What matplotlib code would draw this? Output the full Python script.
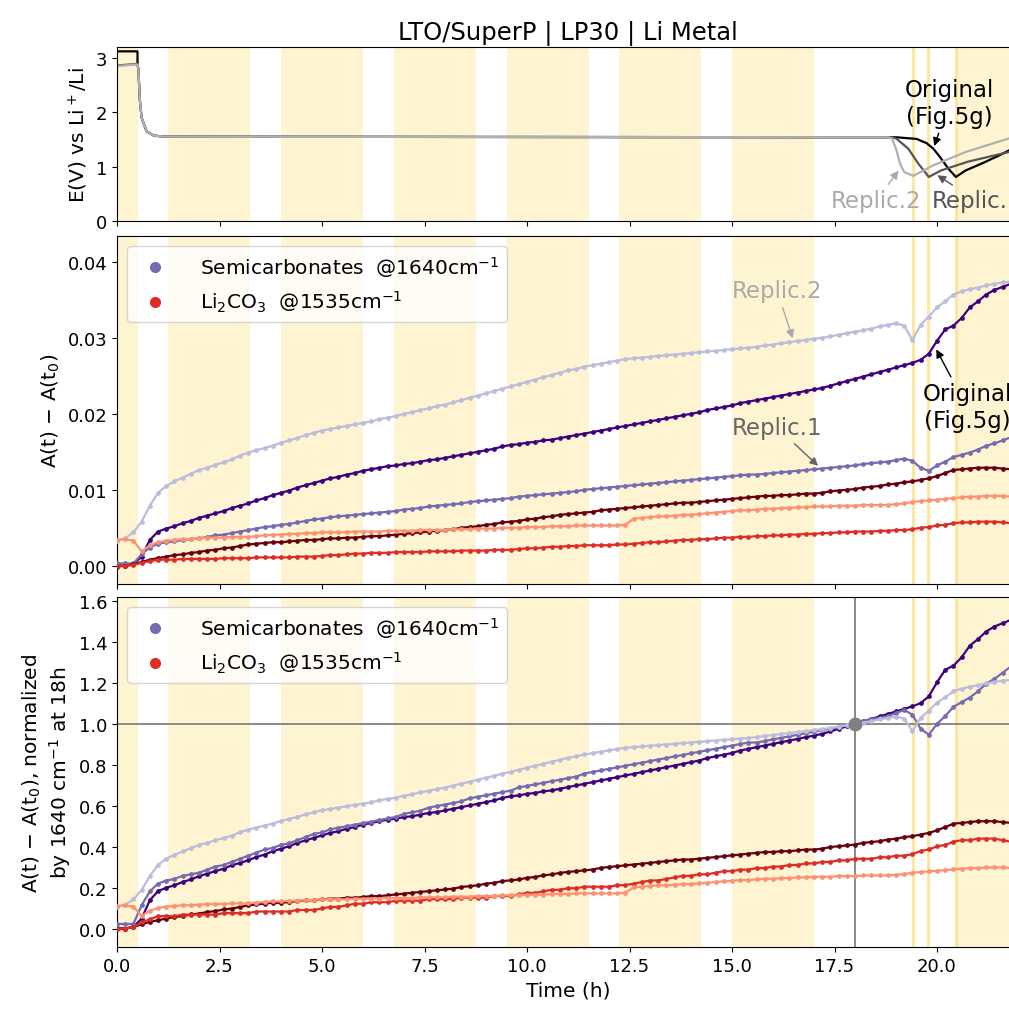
import matplotlib
matplotlib.use("Agg")
import matplotlib.pyplot as plt
import numpy as np
from matplotlib.lines import Line2D

# ---- electrochemistry (top panel) ----
orig_vt = [0, 0.5, 0.5, 0.52, 0.56, 0.6, 0.72, 0.9, 1.2, 19.0, 19.5, 19.75,
           19.91, 20.07, 20.28, 20.46, 20.7, 21.1, 21.5, 21.76, 22.0]
orig_v = [3.12, 3.12, 2.88, 2.8, 2.2, 1.9, 1.65, 1.57, 1.55, 1.54, 1.51, 1.43,
          1.33, 1.18, 0.96, 0.81, 0.93, 1.06, 1.2, 1.3, 1.36]
rep1_vt = [0, 0.5, 0.52, 0.56, 0.6, 0.72, 0.9, 1.2, 18.9, 19.0, 19.3, 19.54,
           19.8, 20.1, 20.75, 21.76, 22.0]
rep1_v = [2.86, 2.89, 2.8, 2.2, 1.9, 1.65, 1.57, 1.55, 1.54, 1.52, 1.33, 1.06,
          0.81, 0.93, 1.09, 1.27, 1.31]
rep2_vt = [0, 0.5, 0.52, 0.56, 0.6, 0.72, 0.9, 1.2, 18.8, 18.9, 19.0, 19.1,
           19.2, 19.42, 19.9, 20.7, 21.76, 22.0]
rep2_v = [2.85, 2.88, 2.8, 2.2, 1.9, 1.65, 1.57, 1.55, 1.54, 1.52, 1.33, 1.05,
          0.9, 0.83, 1.02, 1.27, 1.52, 1.57]

# ---- IR band areas, A(t)-A(t0) in 1e-3 units, every 0.2 h ----
time = np.linspace(0, 21.8, 110)

semi_orig = [0.1, 0.0, 0.2, 1.2, 3.4, 4.5, 4.9, 5.2, 5.6, 5.9,
             6.3, 6.6, 6.9, 7.2, 7.6, 7.9, 8.2, 8.6, 8.9, 9.3,
             9.6, 9.9, 10.3, 10.6, 10.9, 11.2, 11.5, 11.7, 12.0, 12.2,
             12.5, 12.7, 12.9, 13.1, 13.2, 13.4, 13.5, 13.7, 13.9, 14.0,
             14.2, 14.4, 14.6, 14.8, 15.0, 15.2, 15.4, 15.7, 15.9, 16.0,
             16.2, 16.3, 16.5, 16.6, 16.8, 17.0, 17.2, 17.4, 17.6, 17.8,
             18.0, 18.2, 18.4, 18.6, 18.8, 19.0, 19.2, 19.4, 19.6, 19.8,
             20.0, 20.2, 20.5, 20.7, 20.9, 21.1, 21.4, 21.6, 21.8, 22.0,
             22.2, 22.4, 22.6, 22.8, 23.0, 23.2, 23.4, 23.7, 24.0, 24.3,
             24.6, 24.9, 25.2, 25.5, 25.8, 26.1, 26.4, 26.7, 27.1, 27.9,
             29.6, 31.1, 31.6, 32.6, 34.0, 34.8, 35.7, 36.3, 36.7, 37.1]
semi_rep1 = [0.3, 0.3, 0.3, 1.5, 2.4, 2.9, 3.1, 3.2, 3.4, 3.5,
             3.6, 3.8, 4.0, 4.1, 4.3, 4.5, 4.7, 4.9, 5.1, 5.2,
             5.4, 5.5, 5.7, 5.9, 6.1, 6.2, 6.4, 6.5, 6.6, 6.7,
             6.8, 6.9, 7.0, 7.1, 7.2, 7.4, 7.5, 7.6, 7.8, 7.9,
             8.0, 8.1, 8.2, 8.4, 8.5, 8.6, 8.7, 8.8, 8.9, 9.1,
             9.2, 9.3, 9.4, 9.5, 9.6, 9.7, 9.8, 10.0, 10.1, 10.2,
             10.3, 10.4, 10.5, 10.6, 10.7, 10.8, 10.9, 11.0, 11.1, 11.2,
             11.3, 11.4, 11.5, 11.6, 11.7, 11.8, 11.9, 12.0, 12.0, 12.1,
             12.2, 12.3, 12.4, 12.5, 12.6, 12.7, 12.8, 12.9, 13.0, 13.1,
             13.2, 13.4, 13.5, 13.6, 13.7, 13.9, 14.1, 13.8, 12.9, 12.5,
             13.2, 13.7, 14.3, 14.6, 14.9, 15.3, 15.8, 16.1, 16.5, 16.9]
semi_rep2 = [3.3, 3.6, 4.4, 5.8, 7.9, 9.6, 10.5, 11.1, 11.6, 12.1,
             12.6, 12.9, 13.3, 13.6, 14.0, 14.5, 14.9, 15.2, 15.5, 15.8,
             16.2, 16.5, 16.8, 17.2, 17.5, 17.8, 18.0, 18.2, 18.4, 18.6,
             18.8, 19.0, 19.3, 19.5, 19.7, 20.0, 20.2, 20.5, 20.7, 21.0,
             21.2, 21.5, 21.8, 22.1, 22.4, 22.7, 23.0, 23.3, 23.6, 23.9,
             24.2, 24.5, 24.8, 25.1, 25.4, 25.7, 25.9, 26.2, 26.4, 26.6,
             26.8, 27.0, 27.2, 27.3, 27.4, 27.5, 27.6, 27.7, 27.8, 27.9,
             28.0, 28.1, 28.2, 28.3, 28.4, 28.5, 28.6, 28.7, 28.8, 29.0,
             29.1, 29.3, 29.4, 29.6, 29.7, 29.9, 30.0, 30.2, 30.4, 30.6,
             30.8, 31.0, 31.2, 31.5, 31.7, 31.9, 31.6, 29.7, 31.7, 32.8,
             34.0, 34.8, 35.7, 36.1, 36.4, 36.6, 36.9, 37.1, 37.3, 37.4]
carb_orig = [-0.1, 0.0, 0.2, 0.5, 0.8, 1.0, 1.2, 1.4, 1.5, 1.7,
             1.8, 2.0, 2.1, 2.3, 2.4, 2.6, 2.8, 2.9, 3.0, 3.1,
             3.1, 3.2, 3.3, 3.4, 3.4, 3.5, 3.6, 3.6, 3.7, 3.7,
             3.8, 3.9, 3.9, 4.0, 4.1, 4.2, 4.3, 4.4, 4.5, 4.6,
             4.7, 4.8, 5.0, 5.1, 5.2, 5.4, 5.5, 5.7, 5.8, 5.9,
             6.1, 6.2, 6.4, 6.5, 6.7, 6.8, 6.9, 7.0, 7.1, 7.3,
             7.4, 7.5, 7.6, 7.7, 7.8, 7.9, 8.0, 8.1, 8.2, 8.3,
             8.3, 8.4, 8.5, 8.6, 8.7, 8.8, 8.9, 9.0, 9.1, 9.2,
             9.2, 9.3, 9.3, 9.4, 9.5, 9.5, 9.6, 9.8, 9.9, 10.0,
             10.1, 10.3, 10.4, 10.5, 10.7, 10.8, 11.0, 11.1, 11.3, 11.5,
             11.8, 12.2, 12.6, 12.7, 12.8, 12.9, 12.9, 12.9, 12.8, 12.7]
carb_rep1 = [0.0, 0.0, 0.1, 0.4, 0.6, 0.8, 0.8, 0.8, 0.9, 0.9,
             0.9, 0.9, 0.9, 1.0, 1.0, 1.0, 1.0, 1.1, 1.1, 1.1,
             1.1, 1.1, 1.2, 1.2, 1.2, 1.3, 1.4, 1.4, 1.5, 1.6,
             1.6, 1.7, 1.7, 1.7, 1.8, 1.8, 1.8, 1.8, 1.9, 1.9,
             1.9, 1.9, 2.0, 2.0, 2.0, 2.0, 2.1, 2.1, 2.1, 2.2,
             2.3, 2.3, 2.4, 2.5, 2.5, 2.6, 2.6, 2.7, 2.7, 2.7,
             2.7, 2.8, 2.8, 2.9, 3.0, 3.1, 3.1, 3.2, 3.3, 3.4,
             3.4, 3.5, 3.5, 3.6, 3.7, 3.7, 3.8, 3.8, 3.9, 3.9,
             4.0, 4.0, 4.1, 4.1, 4.2, 4.2, 4.3, 4.3, 4.4, 4.4,
             4.5, 4.5, 4.5, 4.6, 4.6, 4.7, 4.7, 4.8, 5.0, 5.1,
             5.3, 5.4, 5.6, 5.7, 5.7, 5.8, 5.8, 5.8, 5.7, 5.6]
carb_rep2 = [3.4, 3.5, 3.3, 1.9, 2.7, 3.1, 3.3, 3.4, 3.5, 3.5,
             3.6, 3.7, 3.7, 3.7, 3.8, 3.8, 3.8, 3.9, 4.0, 4.1,
             4.1, 4.2, 4.2, 4.3, 4.3, 4.4, 4.4, 4.4, 4.4, 4.5,
             4.5, 4.5, 4.5, 4.6, 4.6, 4.6, 4.6, 4.7, 4.7, 4.7,
             4.7, 4.8, 4.8, 4.8, 4.9, 4.9, 4.9, 5.0, 5.0, 5.0,
             5.1, 5.1, 5.1, 5.2, 5.2, 5.2, 5.3, 5.3, 5.3, 5.3,
             5.3, 5.3, 5.4, 6.2, 6.3, 6.4, 6.5, 6.5, 6.6, 6.7,
             6.7, 6.8, 6.9, 7.0, 7.1, 7.2, 7.3, 7.3, 7.4, 7.5,
             7.5, 7.6, 7.6, 7.7, 7.7, 7.8, 7.8, 7.8, 7.9, 7.9,
             7.9, 8.0, 8.0, 8.0, 8.0, 8.1, 8.2, 8.4, 8.5, 8.6,
             8.7, 8.8, 8.9, 9.0, 9.1, 9.1, 9.2, 9.2, 9.2, 9.1]

# shaded periods (h)
shade_start = [0.0, 1.25, 4.0, 6.75, 9.5, 12.25, 15.0, 20.46]
shade_end = [0.5, 3.25, 6.0, 8.75, 11.5, 14.25, 17.0, 22.5]
marker_lines = [19.42, 19.78, 20.46]

c_semi = ['#3f007d', '#756bb1', '#bcbddc']
c_carb = ['#67000d', '#de2d26', '#fc9272']
shade_col = '#fff4d2'

semis = [np.array(s) * 1e-3 for s in (semi_orig, semi_rep1, semi_rep2)]
carbs = [np.array(c) * 1e-3 for c in (carb_orig, carb_rep1, carb_rep2)]
i18 = np.argmin(np.abs(time - 18.0))
norms = [s[i18] for s in semis]

W, H = 1009, 1012
fig = plt.figure(figsize=(W / 100, H / 100), dpi=100)
left, width = 117 / W, 902 / W
ax1 = fig.add_axes([left, 1 - 222 / H, width, 174 / H])
ax2 = fig.add_axes([left, 1 - 585 / H, width, 348 / H])
ax3 = fig.add_axes([left, 1 - 948 / H, width, 350 / H])


def shade(ax):
    for s, e in zip(shade_start, shade_end):
        ax.axvspan(s, e, color=shade_col, lw=0, zorder=0)
    for x in marker_lines:
        ax.axvline(x, color='#fde6a0', lw=2.2, zorder=0.5)


for ax in (ax1, ax2, ax3):
    shade(ax)
    ax.set_xlim(0, 22)
    ax.tick_params(labelsize=13)

# top panel (light grey drawn last, so it sits on top of the plateau)
ax1.plot(orig_vt, orig_v, color='black', lw=1.6)
ax1.plot(rep1_vt, rep1_v, color='#555555', lw=1.6)
ax1.plot(rep2_vt, rep2_v, color='#b0b0b0', lw=1.6)
ax1.set_ylim(0, 3.2)
ax1.set_yticks([0, 1, 2, 3])
ax1.tick_params(labelbottom=False)
ax1.set_ylabel('E(V) vs Li$^+$/Li', fontsize=14.5)
ax1.set_title('LTO/SuperP | LP30 | Li Metal', fontsize=17.5)

ann = dict(fontsize=16.5, ha='center', va='center', annotation_clip=False)
ax1.annotate('Original\n(Fig.5g)', xy=(19.91, 1.33), xytext=(20.3, 2.17),
             color='black', arrowprops=dict(arrowstyle='-|>', color='black', lw=1, mutation_scale=12), **ann)
ax1.annotate('Replic.2', xy=(19.1, 0.97), xytext=(18.52, 0.37),
             color='#aaaaaa', arrowprops=dict(arrowstyle='-|>', color='#aaaaaa', lw=1, mutation_scale=12), **ann)
ax1.annotate('Replic.1', xy=(19.95, 0.87), xytext=(20.97, 0.37),
             color='#555555', arrowprops=dict(arrowstyle='-|>', color='#555555', lw=1, mutation_scale=12), **ann)

# middle panel
for ys, c in zip(semis, c_semi):
    ax2.plot(time, ys, '-o', color=c, ms=2.4, lw=1.6, zorder=3)
for ys, c in zip(carbs, c_carb):
    ax2.plot(time, ys, '-o', color=c, ms=2.4, lw=1.6, zorder=3)
ax2.set_ylim(-0.0024, 0.0434)
ax2.set_yticks([0, 0.01, 0.02, 0.03, 0.04])
ax2.tick_params(labelbottom=False)
ax2.set_ylabel('A(t) $-$ A(t$_0$)', fontsize=14.5)
ax2.annotate('Replic.2', xy=(16.5, 0.0296), xytext=(16.1, 0.0362),
             color='#aaaaaa', arrowprops=dict(arrowstyle='-|>', color='#aaaaaa', lw=1, mutation_scale=12), **ann)
ax2.annotate('Replic.1', xy=(17.15, 0.0129), xytext=(16.1, 0.0182),
             color='#666666', arrowprops=dict(arrowstyle='-|>', color='#666666', lw=1, mutation_scale=12), **ann)
ax2.annotate('Original\n(Fig.5g)', xy=(19.95, 0.0288), xytext=(20.73, 0.0209),
             color='black', arrowprops=dict(arrowstyle='-|>', color='black', lw=1, mutation_scale=12), **ann)

# bottom panel
for ys, c, n in zip(semis, c_semi, norms):
    ax3.plot(time, ys / n, '-o', color=c, ms=2.4, lw=1.6, zorder=3)
for ys, c, n in zip(carbs, c_carb, norms):
    ax3.plot(time, ys / n, '-o', color=c, ms=2.4, lw=1.6, zorder=3)
ax3.axhline(1.0, color='gray', lw=1.3, zorder=2)
ax3.axvline(18.0, color='gray', lw=1.3, zorder=2)
ax3.plot([18.0], [1.0], 'o', color='gray', ms=9, zorder=4)
ax3.set_ylim(-0.09, 1.62)
ax3.set_yticks(np.arange(0, 1.61, 0.2))
ax3.set_xlabel('Time (h)', fontsize=14.5)
ax3.set_ylabel('A(t) $-$ A(t$_0$), normalized\nby 1640 cm$^{-1}$ at 18h', fontsize=14.5)

handles = [Line2D([], [], ls='none', marker='o', ms=7, color='#756bb1'),
           Line2D([], [], ls='none', marker='o', ms=7, color='#de2d26')]
labels = ['Semicarbonates  @1640cm$^{-1}$', 'Li$_2$CO$_3$  @1535cm$^{-1}$']
for ax in (ax2, ax3):
    ax.legend(handles, labels, loc='upper left', fontsize=14.5, handletextpad=1.2)

fig.savefig('out.png', dpi=100)
